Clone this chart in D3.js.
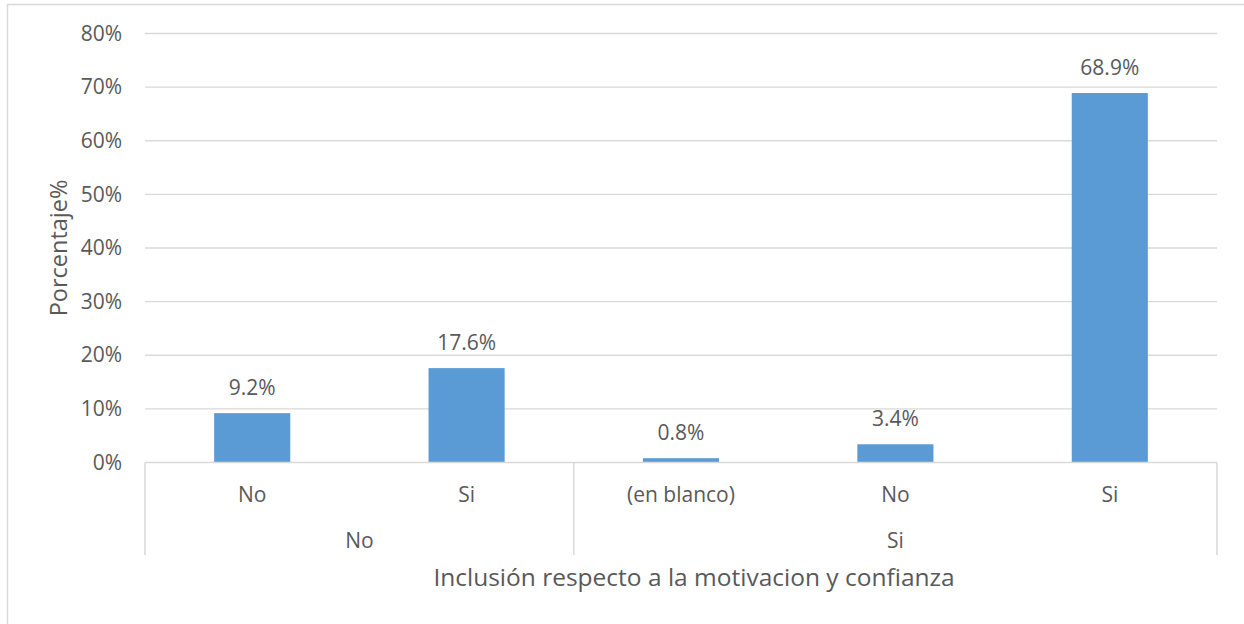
<!DOCTYPE html>
<html>
<head>
<meta charset="utf-8">
<script src="https://cdn.jsdelivr.net/npm/d3@7"></script>
<style>
  html, body { margin: 0; padding: 0; background: #fff; }
  svg { display: block; }
  text { font-family: "Open Sans", "Noto Sans", sans-serif; fill: #595959; }
</style>
</head>
<body>
<svg id="chart" width="1244" height="624"></svg>
<script>
// Two-level categories: outer group and inner answer
const groups = ["No", "Si"];
const categories = ["No", "Si", "(en blanco)", "No", "Si"];
const categoryGroup = ["No", "No", "Si", "Si", "Si"];
const values = [9.2, 17.6, 0.8, 3.4, 68.9];
const yTicks = [0, 10, 20, 30, 40, 50, 60, 70, 80];
const yTitle = "Porcentaje%";
const xTitle = "Inclusión respecto a la motivacion y confianza";

const svg = d3.select("#chart");
const W = 1244, H = 624;
const plot = { left: 145, right: 1217, top: 33.5, bottom: 462.5 };
const grey = "#D9D9D9";
const labelSize = 21;
const yTitleSize = 23.5;
const xTitleSize = 24.5;

// Chart area outline
svg.append("rect")
  .attr("x", 7.5).attr("y", 4.5)
  .attr("width", W + 10).attr("height", H + 10)
  .attr("fill", "none").attr("stroke", grey).attr("stroke-width", 1.5);

const x = d3.scaleBand()
  .domain(d3.range(categories.length))
  .range([plot.left, plot.right])
  .padding(0);

const y = d3.scaleLinear()
  .domain([0, 80])
  .range([plot.bottom, plot.top]);

// Horizontal gridlines
svg.append("g")
  .selectAll("line")
  .data(yTicks.filter(d => d > 0))
  .join("line")
  .attr("x1", plot.left).attr("x2", plot.right)
  .attr("y1", d => y(d)).attr("y2", d => y(d))
  .attr("stroke", grey).attr("stroke-width", 1.3);

// Y axis tick labels
const yAxis = d3.axisLeft(y)
  .tickValues(yTicks)
  .tickFormat(d => d + "%")
  .tickSize(0)
  .tickPadding(23);
const gy = svg.append("g")
  .attr("transform", `translate(${plot.left},0)`)
  .call(yAxis);
gy.select(".domain").remove();
gy.selectAll("text")
  .style("font-family", '"Open Sans", sans-serif')
  .attr("font-size", labelSize)
  .attr("fill", "#595959");

// Bars
const barW = x.bandwidth() * 0.355;
svg.append("g")
  .selectAll("rect")
  .data(values)
  .join("rect")
  .attr("x", (d, i) => x(i) + (x.bandwidth() - barW) / 2)
  .attr("width", barW)
  .attr("y", d => y(d))
  .attr("height", d => y(0) - y(d))
  .attr("fill", "#5B9BD5");

// Value labels
svg.append("g")
  .selectAll("text")
  .data(values)
  .join("text")
  .attr("x", (d, i) => x(i) + x.bandwidth() / 2)
  .attr("y", d => y(d) - 18)
  .attr("text-anchor", "middle")
  .attr("font-size", labelSize)
  .text(d => d.toFixed(1) + "%");

// Baseline
svg.append("line")
  .attr("x1", plot.left).attr("x2", plot.right)
  .attr("y1", y(0)).attr("y2", y(0))
  .attr("stroke", grey).attr("stroke-width", 1.5);

// Inner category labels
svg.append("g")
  .selectAll("text")
  .data(categories)
  .join("text")
  .attr("x", (d, i) => x(i) + x.bandwidth() / 2)
  .attr("y", 501.5)
  .attr("text-anchor", "middle")
  .attr("font-size", labelSize)
  .text(d => d);

// Outer group spans, separators and labels
const spans = groups.map(g => {
  const idx = d3.range(categories.length).filter(i => categoryGroup[i] === g);
  return { name: g, x0: x(idx[0]), x1: x(idx[idx.length - 1]) + x.bandwidth() };
});
const seps = [spans[0].x0, ...spans.map(s => s.x1)];
svg.append("g")
  .selectAll("line")
  .data(seps)
  .join("line")
  .attr("x1", d => d).attr("x2", d => d)
  .attr("y1", y(0)).attr("y2", 555)
  .attr("stroke", grey).attr("stroke-width", 1.5);

svg.append("g")
  .selectAll("text")
  .data(spans)
  .join("text")
  .attr("x", d => (d.x0 + d.x1) / 2)
  .attr("y", 548)
  .attr("text-anchor", "middle")
  .attr("font-size", labelSize)
  .text(d => d.name);

// Axis titles
svg.append("text")
  .attr("transform", `translate(67,${(plot.top + plot.bottom) / 2}) rotate(-90)`)
  .attr("text-anchor", "middle")
  .attr("font-size", yTitleSize)
  .text(yTitle);

svg.append("text")
  .attr("x", 694)
  .attr("y", 586)
  .attr("text-anchor", "middle")
  .attr("font-size", xTitleSize)
  .text(xTitle);
</script>
</body>
</html>
